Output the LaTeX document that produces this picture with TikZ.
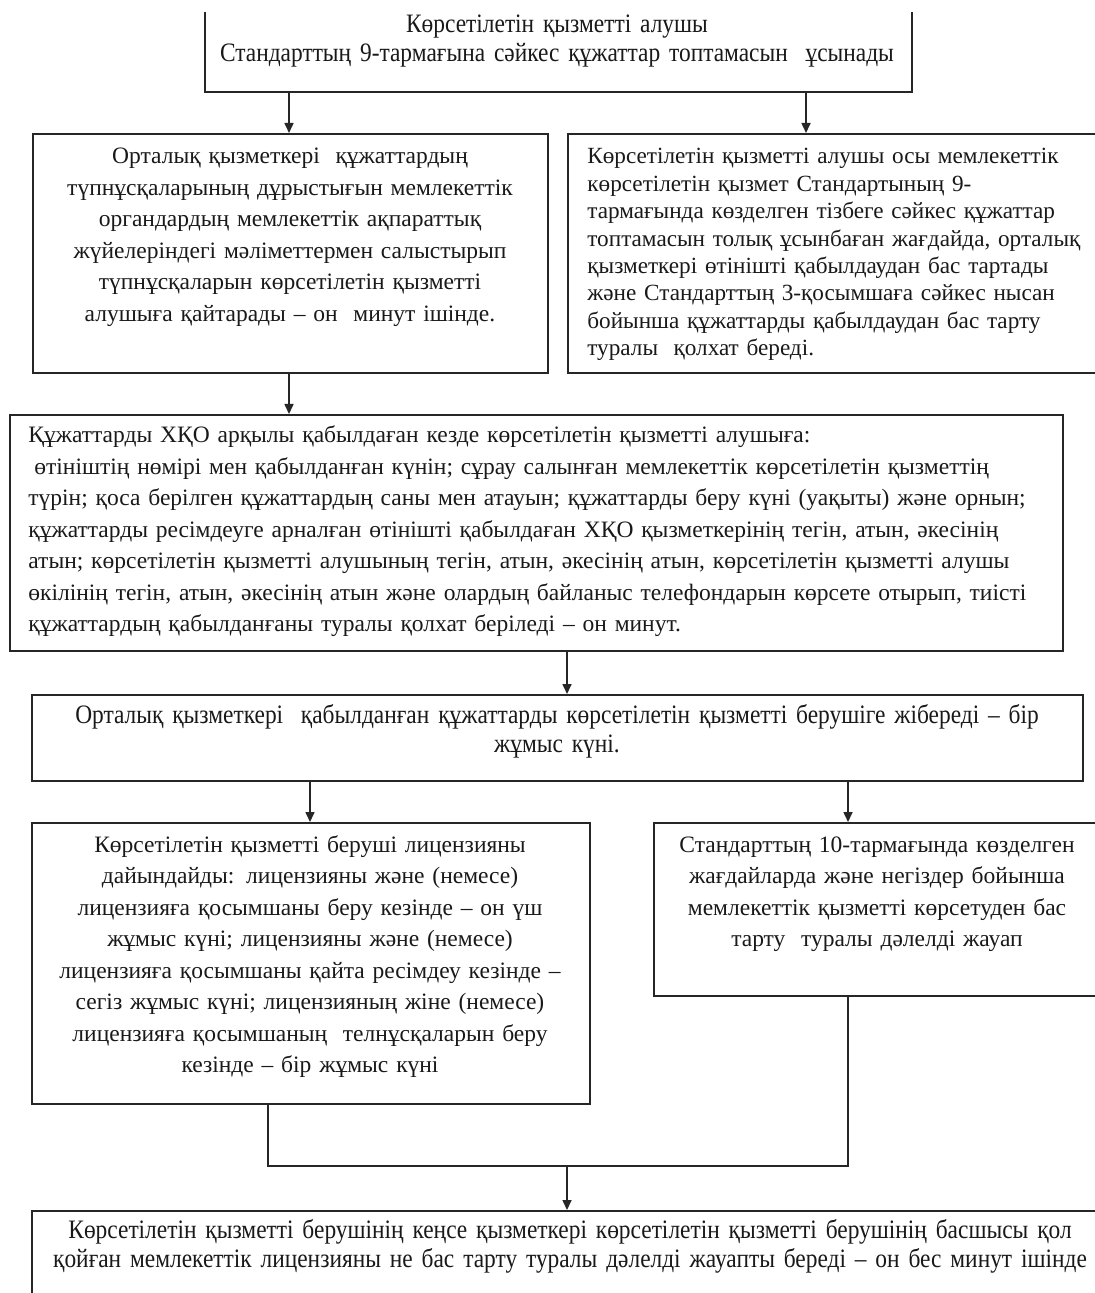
\documentclass[tikz,border=0pt]{standalone}
\usepackage{fontspec}
\setmainfont{Liberation Serif}
\newfontfamily\condserif[FakeStretch=0.88]{Liberation Serif}
\usetikzlibrary{arrows.meta,calc}
\begin{document}
\begin{tikzpicture}[x=0.5pt,y=-0.5pt]
\tikzset{
  box/.style={draw=black!85, line width=1pt, inner sep=0pt, anchor=north west},
  openbox/.style={inner sep=0pt, anchor=north west},
  txt/.style={inner sep=0pt, text=black!90},
  fa/.style={font=\fontsize{11.75}{15.75}\selectfont},
  fb/.style={font=\condserif\fontsize{13.3}{14.5}\selectfont},
  fc/.style={font=\fontsize{11.6}{13.7}\selectfont},
  arr/.style={line width=0.8pt, draw=black!85, -{Triangle[length=5pt,width=4.5pt]}},
  ln/.style={line width=0.8pt, draw=black!85}
}
\useasboundingbox (0,0) rectangle (1094,1293);
\fill[white] (0,0) rectangle (1094,1293);

% boxes
\node[openbox, minimum width=353pt, minimum height=39.5pt] (top) at (205,12) {};
\draw[line width=1pt, draw=black!85] (top.north west) -- (top.south west) -- (top.south east) -- (top.north east);
\node[box, minimum width=257.5pt, minimum height=119.5pt] (b2) at (32,133) {};
\node[box, minimum width=271.5pt, minimum height=119.5pt] (b3) at (567,133) {};
\node[box, minimum width=526.5pt, minimum height=118pt] (b4) at (9,414) {};
\node[box, minimum width=525.5pt, minimum height=43pt] (b5) at (31,694) {};
\node[box, minimum width=279pt, minimum height=140.5pt] (b6) at (31,822) {};
\node[box, minimum width=224pt, minimum height=86.5pt] (b7) at (653,822) {};
\node[box, minimum width=539pt, minimum height=60pt] (b8) at (31,1210) {};

% texts
\node[txt, fb, anchor=base, align=center, text width=350pt] (t1) at (557,33)
 {Көрсетілетін қызметті алушы\\Стандарттың 9-тармағына сәйкес құжаттар топтамасын\ \ ұсынады};
\node[txt, fa, anchor=base, align=center, text width=255pt] (t2) at (290,164)
 {Орталық қызметкері\ \ құжаттардың\\түпнұсқаларының дұрыстығын мемлекеттік\\органдардың мемлекеттік ақпараттық\\жүйелеріндегі мәліметтермен салыстырып\\түпнұсқаларын көрсетілетін қызметті\\алушыға қайтарады – он\ \ минут ішінде.};
\node[txt, fc, anchor=base west, align=left, text width=270pt] (t3) at (587,164)
 {Көрсетілетін қызметті алушы осы мемлекеттік\\көрсетілетін қызмет Стандартының 9-\\тармағында көзделген тізбеге сәйкес құжаттар\\топтамасын толық ұсынбаған жағдайда, орталық\\қызметкері өтінішті қабылдаудан бас тартады\\және Стандарттың 3-қосымшаға сәйкес нысан\\бойынша құжаттарды қабылдаудан бас тарту\\туралы\ \ қолхат береді.};
\node[txt, fa, anchor=base west, align=left, text width=525pt] (t4) at (28,443)
 {Құжаттарды ХҚО арқылы қабылдаған кезде көрсетілетін қызметті алушыға:\\\hspace*{3pt}өтініштің нөмірі мен қабылданған күнін; сұрау салынған мемлекеттік көрсетілетін қызметтің\\түрін; қоса берілген құжаттардың саны мен атауын; құжаттарды беру күні (уақыты) және орнын;\\құжаттарды ресімдеуге арналған өтінішті қабылдаған ХҚО қызметкерінің тегін, атын, әкесінің\\атын; көрсетілетін қызметті алушының тегін, атын, әкесінің атын, көрсетілетін қызметті алушы\\өкілінің тегін, атын, әкесінің атын және олардың байланыс телефондарын көрсете отырып, тиісті\\құжаттардың қабылданғаны туралы қолхат беріледі – он минут.};
\node[txt, fb, anchor=base, align=center, text width=520pt] (t5) at (557,723)
 {Орталық қызметкері\ \ қабылданған құжаттарды көрсетілетін қызметті берушіге жібереді – бір\\жұмыс күні.};
\node[txt, fa, anchor=base, align=center, text width=275pt] (t6) at (310,852)
 {Көрсетілетін қызметті беруші лицензияны\\дайындайды: лицензияны және (немесе)\\лицензияға қосымшаны беру кезінде – он үш\\жұмыс күні; лицензияны және (немесе)\\лицензияға қосымшаны қайта ресімдеу кезінде –\\сегіз жұмыс күні; лицензияның жіне (немесе)\\лицензияға қосымшаның\ \ телнұсқаларын беру\\кезінде – бір жұмыс күні};
\node[txt, fa, anchor=base, align=center, text width=220pt] (t7) at (877,852)
 {Стандарттың 10-тармағында көзделген\\жағдайларда және негіздер бойынша\\мемлекеттік қызметті көрсетуден бас\\тарту\ \ туралы дәлелді жауап};
\node[txt, fb, anchor=base, align=center, text width=535pt] (t8) at (570,1238)
 {Көрсетілетін қызметті берушінің кеңсе қызметкері көрсетілетін қызметті берушінің басшысы қол\\қойған мемлекеттік лицензияны не бас тарту туралы дәлелді жауапты береді – он бес минут ішінде};

% connector columns
\coordinate (xa) at (289,0);
\coordinate (xb) at (806,0);
\coordinate (xc) at (567,0);
\coordinate (xd) at (310,0);
\coordinate (xe) at (848,0);
\coordinate (xf) at (268,0);
\coordinate (jl) at (268,1166);
\coordinate (jr) at (848,1166);
\coordinate (jm) at (567,1166);

\draw[arr] (top.south -| xa) -- (b2.north -| xa);
\draw[arr] (top.south -| xb) -- (b3.north -| xb);
\draw[arr] (b2.south -| xa) -- (b4.north -| xa);
\draw[arr] (b4.south -| xc) -- (b5.north -| xc);
\draw[arr] (b5.south -| xd) -- (b6.north -| xd);
\draw[arr] (b5.south -| xe) -- (b7.north -| xe);
\draw[ln] (b6.south -| xf) -- (jl) -- (jr) -- (b7.south -| xe);
\draw[arr] (jm) -- (b8.north -| jm);
\end{tikzpicture}
\end{document}
